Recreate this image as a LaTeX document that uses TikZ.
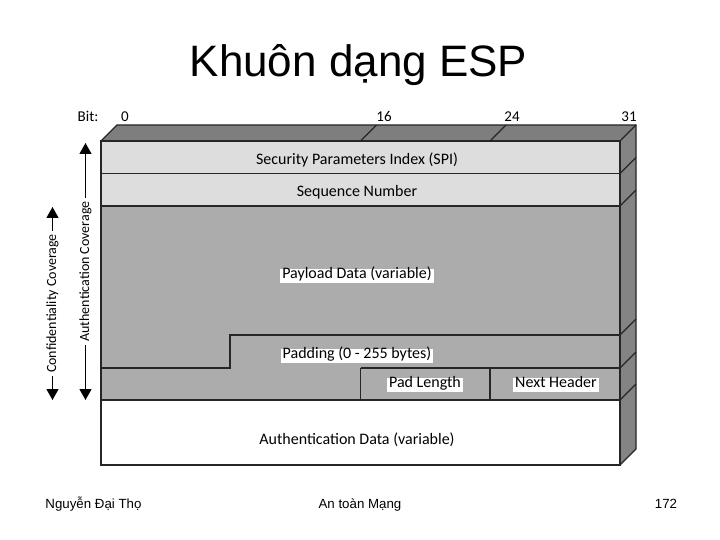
\documentclass[tikz,border=0pt]{standalone}
\usepackage{fontspec}
\setmainfont{Liberation Sans}
\newfontfamily\diagfont{Carlito}
\usetikzlibrary{arrows.meta, positioning}
\definecolor{lightrow}{RGB}{221,221,221}
\definecolor{midrow}{RGB}{172,172,172}
\definecolor{topface}{RGB}{126,126,126}
\definecolor{sideface}{RGB}{132,132,132}

\begin{document}
\begin{tikzpicture}[x=1pt, y=-1pt,
    every node/.style={font=\diagfont\fontsize{16}{18}\selectfont, inner sep=1.5pt},
    label/.style={fill=white, inner sep=2pt, text height=1.5ex, text depth=.45ex},
    edge3d/.style={draw=black!85, line width=1.1pt},
    cover/.style={draw, line width=1.2pt,
      {Triangle[width=12pt,length=11pt]}-{Triangle[width=12pt,length=11pt]}},
    covtext/.style={fill=white, rotate=90, inner sep=3pt, font=\diagfont\fontsize{14}{16}\selectfont},
    bit/.style={anchor=base, font=\diagfont\fontsize{15}{17}\selectfont},
    slide/.style={font=\fontsize{13.3}{15}\selectfont, anchor=base},
  ]
  \useasboundingbox (0,0) rectangle (720,540);

  \node[font=\fontsize{44}{50}\selectfont, anchor=base] (title) at (358.5,77) {Khuôn dạng ESP};

  \fill[topface] (101,141) -- (117,125) -- (636,125) -- (620,141) -- cycle;
  \fill[sideface] (620,141) -- (636,125) -- (636,449) -- (620,465) -- cycle;
  \fill[lightrow] (101,141) rectangle (620,206);
  \fill[midrow] (101,206) rectangle (620,400);
  \fill[white] (101,400) rectangle (620,465);

  \draw[edge3d] (101,141) -- (117,125) -- (636,125) -- (636,449) -- (620,465);
  \draw[edge3d] (620,141) -- (636,125);
  \draw[edge3d] (360.5,141) -- (376.5,125);
  \draw[edge3d] (490,141) -- (506,125);
  \foreach \y in {173.5,206,335,368,400}
    \draw[edge3d] (620,\y) -- (636,\y-16);

  \draw[edge3d] (101,141) rectangle (620,465);
  \draw[edge3d] (101,173.5) -- (620,173.5);
  \draw[edge3d] (101,206) -- (620,206);
  \draw[edge3d] (101,368) -- (230,368) -- (230,335) -- (620,335);
  \draw[edge3d] (360.5,368) -- (620,368);
  \draw[edge3d] (360.5,368) -- (360.5,400);
  \draw[edge3d] (490,368) -- (490,400);
  \draw[edge3d] (101,400) -- (620,400);

  \node[bit] (bitlbl) at (88,122) {Bit:};
  \node[bit] (bit0) at (125,122) {0};
  \node[bit] (bit16) at (384,122) {16};
  \node[bit] (bit24) at (512,122) {24};
  \node[bit] (bit31) at (629,122) {31};

  \node (spi) at (357,160) {Security Parameters Index (SPI)};
  \node (seqnum) at (357,192) {Sequence Number};
  \node[label] (payload) at (357,276) {Payload Data (variable)};
  \node[label] (padding) at (357,356) {Padding (0 - 255 bytes)};
  \node[label] (padlen) at (425,385) {Pad Length};
  \node[label] (nexthdr) at (556,385) {Next Header};
  \node (authdata) at (357,440) {Authentication Data (variable)};

  \coordinate (authtop) at (85.5,143);
  \coordinate (authbot) at (85.5,400);
  \coordinate (conftop) at (52.5,207);
  \coordinate (confbot) at (52.5,400);
  \draw[cover] (authbot) -- node[covtext] (authcov) {Authentication Coverage} (authtop);
  \draw[cover] (confbot) -- node[covtext] (confcov) {Confidentiality Coverage} (conftop);

  \node[slide] (author) at (93.5,508) {Nguyễn Đại Thọ};
  \node[slide] (course) at (360,508) {An toàn Mạng};
  \node[slide] (page) at (666,508) {172};
\end{tikzpicture}
\end{document}
